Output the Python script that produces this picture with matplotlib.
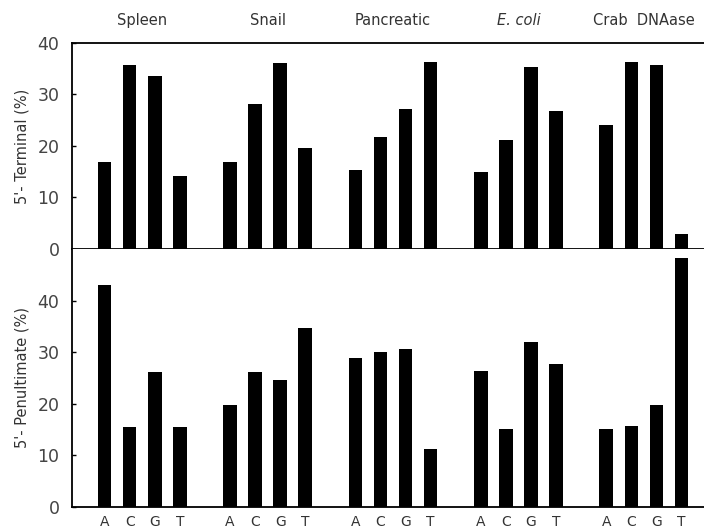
import matplotlib
matplotlib.use("Agg")
from matplotlib import pyplot as plt
import numpy as np

# groups of enzymes and the four bases
enzymes = ["Spleen", "Snail", "Pancreatic", "E. coli", "Crab  DNAase"]
bases = ["A", "C", "G", "T"]

# 5'-terminal (%), one row per enzyme, columns A C G T
terminal = [
    [16.8, 35.7, 33.6, 14.2],
    [16.8, 28.2, 36.2, 19.7],
    [15.3, 21.7, 27.2, 36.4],
    [15.0, 21.2, 35.4, 26.7],
    [24.0, 36.4, 35.7, 3.0],
]

# 5'-penultimate (%)
penultimate = [
    [43.1, 15.5, 26.2, 15.5],
    [19.8, 26.2, 24.7, 34.6],
    [28.8, 30.1, 30.7, 11.2],
    [26.4, 15.2, 31.9, 27.7],
    [15.2, 15.7, 19.7, 48.2],
]

plt.rcParams["font.family"] = ["DejaVu Sans"]

fig = plt.figure(figsize=(7.04, 5.32), dpi=100)
ax1 = fig.add_axes([0.1023, 0.532, 0.8977, 0.3872])
ax2 = fig.add_axes([0.1023, 0.047, 0.8977, 0.485])

# x position: 5 slots per group, one per base
xpos = np.array([g * 5 + i for g in range(len(enzymes)) for i in range(4)])

for ax, vals in [(ax1, terminal), (ax2, penultimate)]:
    ax.bar(xpos, np.ravel(vals), width=0.54, color="black")
    ax.set_xlim(-1.3, 23.9)
    ax.spines["right"].set_visible(False)
    for s in ["left", "bottom", "top"]:
        ax.spines[s].set_linewidth(1.3)
    ax.tick_params(axis="y", direction="in", length=3, width=1,
                   labelsize=12.5, labelcolor="#444444", pad=9)

ax1.set_ylim(0, 40)
ax1.set_yticks([0, 10, 20, 30, 40])
ax1.set_xticks([])
ax1.set_ylabel("5'- Terminal (%)", fontsize=10.5, color="#333333", labelpad=6)

ax2.set_ylim(0, 50)
ax2.set_yticks([0, 10, 20, 30, 40])
ax2.spines["top"].set_visible(False)
ax2.set_xticks(xpos)
ax2.set_xticklabels(bases * len(enzymes), fontsize=10, color="#333333")
ax2.tick_params(axis="x", length=0, pad=6)
ax2.set_ylabel("5'- Penultimate (%)", fontsize=10.5, color="#333333", labelpad=6)

# enzyme names above each group
for g, name in enumerate(enzymes):
    style = "italic" if name.startswith("E.") else "normal"
    ax1.text(g * 5 + 1.5, 1.075, name, transform=ax1.get_xaxis_transform(),
             ha="center", va="bottom", fontsize=10.5, style=style, color="#333333")

fig.savefig("out.png", dpi=100)
